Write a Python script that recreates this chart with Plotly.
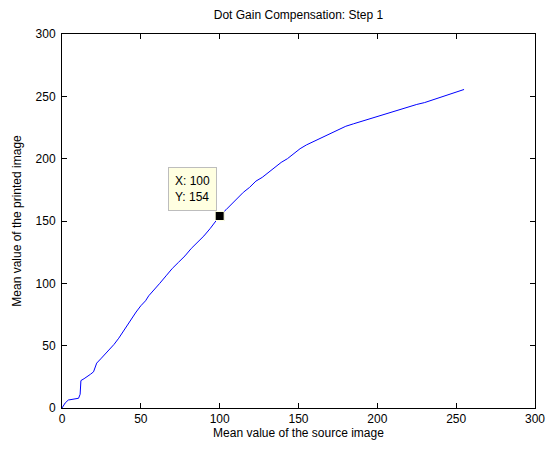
import plotly.graph_objects as go

src = [0, 2, 4, 7, 9, 10.5, 11.5, 12, 14, 16, 18, 20, 22, 25, 28, 30, 33, 36, 39, 42, 44, 47, 50, 53, 55, 58, 62,
       66, 70, 74, 78, 82, 86, 90, 94, 97, 100, 104, 107, 111, 115, 119, 123, 127, 131, 135, 139, 143, 147, 151,
       155, 160, 165, 170, 175, 180, 185, 190, 195, 200, 205, 210, 215, 220, 225, 230, 235, 240, 245, 250, 253, 255]
printed = [0, 4, 6.4, 7, 7.2, 7.8, 11, 22, 23.5, 25, 27, 29, 36, 40, 44, 46.5, 51, 56, 62, 67, 72, 77, 82, 86, 90,
           94, 100, 106, 112, 117, 122, 128, 133, 138, 144, 149, 154, 159, 163, 168, 173, 177, 182, 185, 189, 193,
           197, 200, 204, 208, 211, 214, 217, 220, 223, 226, 228, 230, 232, 234, 236, 238, 240, 242, 243.5, 245,
           247, 249.5, 251.5, 253.5, 254.5, 255.5]

tip_x = [100]
tip_y = [154]

x_ticks = [0, 50, 100, 150, 200, 250, 300]
y_ticks = [0, 50, 100, 150, 200, 250, 300]

FONT = "Liberation Sans, Arial"

fig = go.Figure()
fig.add_trace(go.Scatter(x=src, y=printed, mode="lines",
                         line=dict(color="#0000ff", width=1), showlegend=False, hoverinfo="skip"))
fig.add_trace(go.Scatter(x=tip_x, y=tip_y, mode="markers",
                         marker=dict(symbol="square", size=9, color="black",
                                     line=dict(color="#ffffe1", width=1)),
                         showlegend=False, hoverinfo="skip"))

fig.add_annotation(x=tip_x[0], y=tip_y[0], xref="x", yref="y",
                   text=f"X: {tip_x[0]}<br>Y: {tip_y[0]}", showarrow=False,
                   xanchor="right", yanchor="bottom", xshift=-3, yshift=5, align="left",
                   bgcolor="#ffffe1", bordercolor="#bdbdbd", borderwidth=1, borderpad=6,
                   font=dict(family=FONT, size=12, color="black"))

axis_common = dict(showgrid=False, zeroline=False, showline=True, linecolor="black", linewidth=1,
                   mirror="ticks", ticks="inside", ticklen=5, tickcolor="black", automargin=False,
                   tickfont=dict(family=FONT, size=12, color="black"))

fig.update_layout(
    width=547, height=449,
    margin=dict(l=62, r=12, t=34, b=41, autoexpand=False),
    paper_bgcolor="white", plot_bgcolor="white",
    title=dict(text="Dot Gain Compensation: Step 1", x=0.5, xanchor="center", y=0.967, yanchor="middle",
               xref="paper", automargin=False,
               font=dict(family=FONT, size=12, color="black")),
    xaxis=dict(range=[0, 300], tickvals=x_ticks, title=dict(text="Mean value of the source image", standoff=2,
               font=dict(family=FONT, size=12, color="black")), **axis_common),
    yaxis=dict(range=[0, 300], tickvals=y_ticks, ticklabelstandoff=3,
               title=dict(text="Mean value of the printed image", standoff=11,
                          font=dict(family=FONT, size=12, color="black")), **axis_common),
)

fig.write_html("out.html", config={"displayModeBar": False},
               post_script="document.body.style.margin='0';document.body.style.overflow='hidden';")
